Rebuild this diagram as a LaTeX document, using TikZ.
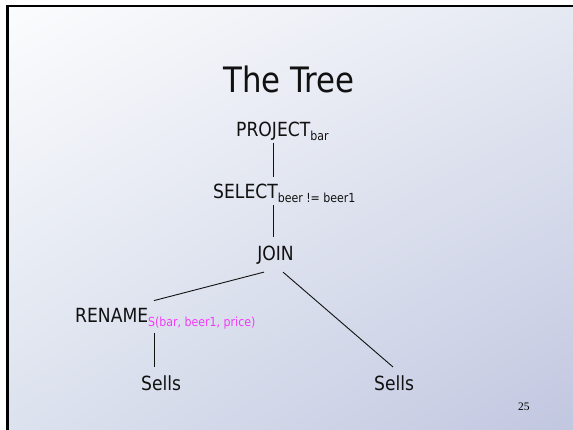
\documentclass[tikz,border=0pt]{standalone}
\usepackage{fontspec}
\setmainfont[FakeStretch=0.88]{DejaVu Sans}
\newfontfamily\pagefont{Liberation Serif}
\usetikzlibrary{positioning, shadings}
\definecolor{cink}{HTML}{111111}
\definecolor{cpink}{HTML}{F03CF8}
\definecolor{cbgtl}{HTML}{FBFCFD}
\definecolor{cbgtr}{HTML}{E5E9F2}
\definecolor{cbgbl}{HTML}{DCE2EE}
\definecolor{cbgbr}{HTML}{C2C7E1}
\newcommand{\low}[1]{\raisebox{-4pt}{\fontsize{12.5}{12.5}\selectfont #1}}
\tikzset{
  every picture/.style={x=1pt, y=1pt},
  op/.style={inner sep=0pt, anchor=base west, text=cink, font=\fontsize{19.5}{19.5}\selectfont},
  edge/.style={draw=cink, line width=0.9pt},
}

\begin{document}
\begin{tikzpicture}
  \useasboundingbox (0,0) rectangle (573,-430);
  % slide
  \fill[white] (0,0) rectangle (573,-430);
  \shade[upper left=cbgtl, upper right=cbgtr, lower left=cbgbl, lower right=cbgbr] (7,-6) rectangle (573,-430);
  \draw[line width=2.5pt, black] (7.5,-430) -- (7.5,-6.2) -- (573,-6.2);
  \node[op, font=\fontsize{35}{35}\selectfont] (title) at (223,-93) {The Tree};
  % tree
  \node[op] (project) at (236,-137) {PROJECT\low{bar}};
  \node[op] (select) at (213,-199) {SELECT\low{beer != beer1}};
  \node[op, anchor=base] (join) at (275.5,-261) {JOIN};
  \node[op] (rename) at (75,-323) {RENAME\low{\textcolor{cpink}{S(bar, beer1, price)}}};
  \node[op] (sellsl) at (141,-390) {Sells};
  \node[op] (sellsr) at (374,-390) {Sells};
  \draw[edge] ([xshift=37pt,yshift=-2pt]project.south west) -- ([xshift=60pt,yshift=7pt]select.north west);
  \draw[edge] ([xshift=60pt,yshift=-2pt]select.south west) -- ([xshift=-2.5pt,yshift=9pt]join.north);
  \draw[edge] ([xshift=-11.5pt,yshift=-7pt]join.south) -- ([xshift=79pt,yshift=8pt]rename.north west);
  \draw[edge] ([xshift=7.5pt,yshift=-7pt]join.south) -- ([xshift=19pt,yshift=8pt]sellsr.north west);
  \draw[edge] ([xshift=79pt,yshift=-3.5pt]rename.south west) -- ([xshift=13pt,yshift=8pt]sellsl.north west);
  % page number
  \node[inner sep=0pt, anchor=base west, font=\pagefont\fontsize{11.5}{11.5}\selectfont] (page) at (518,-410) {25};
\end{tikzpicture}
\end{document}
